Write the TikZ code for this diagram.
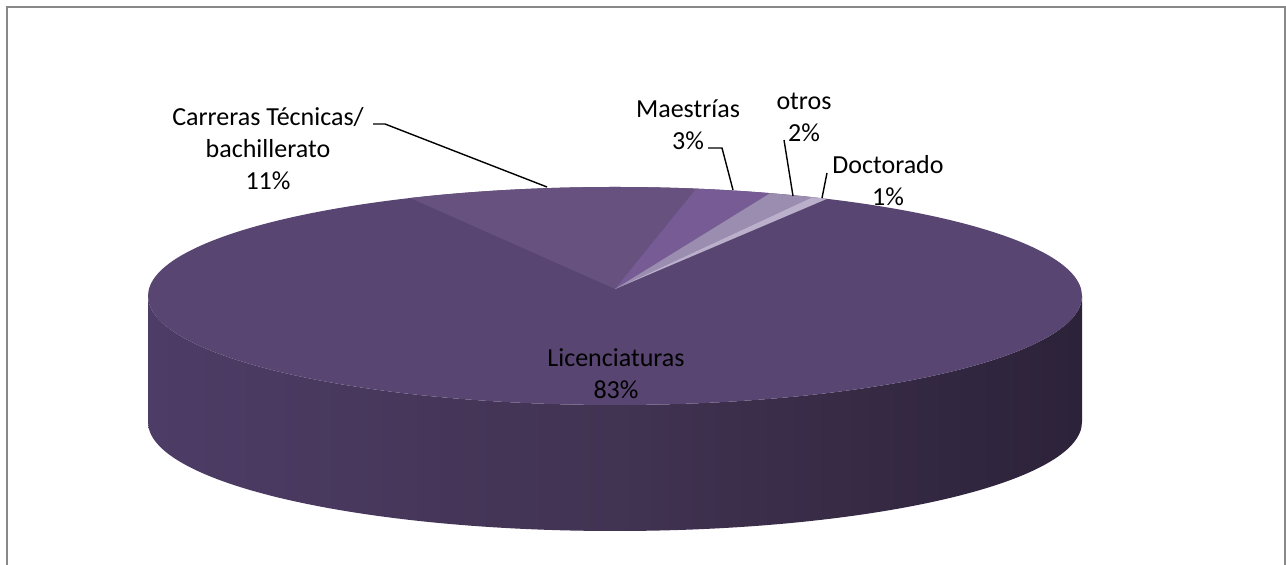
\documentclass[tikz,border=0pt]{standalone}
\usepackage{fontspec}
\setmainfont{Carlito}
\usetikzlibrary{calc}
\definecolor{framegray}{HTML}{888888}
\definecolor{lic}{HTML}{584571}
\definecolor{car}{HTML}{67527F}
\definecolor{mae}{HTML}{765B95}
\definecolor{otr}{HTML}{9B8DB0}
\definecolor{doc}{HTML}{BBB0CC}
\definecolor{sa}{HTML}{574470}
\definecolor{sb}{HTML}{4D3C66}
\definecolor{sc}{HTML}{413352}
\definecolor{sd}{HTML}{2C2239}
\definecolor{se}{HTML}{241B2D}
\pgfdeclarehorizontalshading{sideshade}{100bp}{color(0bp)=(sa); color(25bp)=(sb); color(50bp)=(sc); color(75bp)=(sd); color(100bp)=(se)}
\tikzset{
  lbl/.style={inner sep=0pt, align=center, font=\fontsize{13}{16}\selectfont, text=black},
  leader/.style={draw=black, line width=0.7pt},
  er/.style={x radius=233.5pt, y radius=54.5pt}
}
\begin{document}
\begin{tikzpicture}[x=0.5pt,y=-0.5pt]
\useasboundingbox (0,0) rectangle (1286,565);
\fill[white] (0,0) rectangle (1286,565);
\draw[framegray, line width=0.8pt] (7,7) rectangle (1285,620);
% centre of top face and apex
\coordinate (C) at (615,296);
\coordinate (A) at (615,289);
\coordinate (L) at ($(C)+(180:233.5pt and 54.5pt)$);
\coordinate (R) at ($(C)+(0:233.5pt and 54.5pt)$);
% side
\path[shading=sideshade] (L) -- ++(0,126) arc[start angle=180, end angle=360, er] -- (R) arc[start angle=0, end angle=-180, er] -- cycle;
% top face
\fill[lic] (C) ellipse[er];
\coordinate (t63) at ($(C)+(63:233.5pt and 54.5pt)$);
\coordinate (t65) at ($(C)+(65:233.5pt and 54.5pt)$);
\coordinate (t70) at ($(C)+(70.6:233.5pt and 54.5pt)$);
\coordinate (t80) at ($(C)+(80:233.5pt and 54.5pt)$);
\coordinate (t116) at ($(C)+(116:233.5pt and 54.5pt)$);
\fill[car] (A) -- (t80) arc[start angle=80, end angle=116, er] -- cycle;
\fill[mae] (A) -- (t70) arc[start angle=70.6, end angle=80, er] -- cycle;
\fill[otr] (A) -- (t65) arc[start angle=65, end angle=70.6, er] -- cycle;
\fill[doc] (A) -- (t63) arc[start angle=63, end angle=65, er] -- cycle;
% labels
\node[lbl] (nCar) at (268,149) {Carreras Técnicas/\\bachillerato\\11\%};
\node[lbl] (nMae) at (688,125) {Maestrías\\3\%};
\node[lbl] (nOtr) at (804,117) {otros\\2\%};
\node[lbl] (nDoc) at (888,181) {Doctorado\\1\%};
\node[lbl] (nLic) at (616,374) {Licenciaturas\\83\%};
% leaders
\coordinate (cA1) at (373,124);
\coordinate (cA2) at (385,124);
\coordinate (cA3) at (547,187);
\draw[leader] (cA1) -- (cA2) -- (cA3);
\coordinate (mA1) at (708,148);
\coordinate (mA2) at (722,148);
\coordinate (mA3) at (733,190);
\draw[leader] (mA1) -- (mA2) -- (mA3);
\coordinate (oA1) at (784,140);
\coordinate (oA2) at (793,196);
\draw[leader] (oA1) -- (oA2);
\coordinate (dA1) at (827,173);
\coordinate (dA2) at (822,198);
\draw[leader] (dA1) -- (dA2);
\end{tikzpicture}
\end{document}
